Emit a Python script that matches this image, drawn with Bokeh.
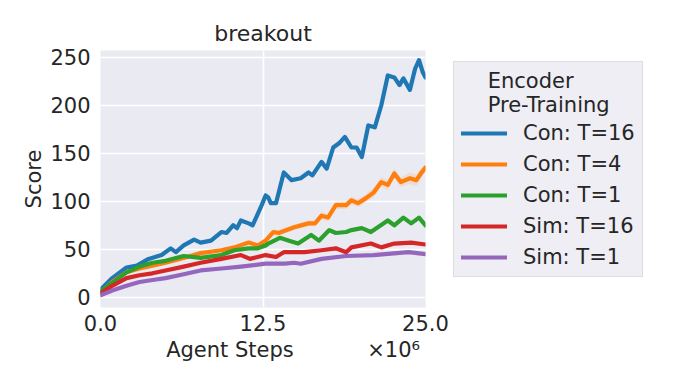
from bokeh.plotting import figure
from bokeh.models import Range1d, FixedTicker, PrintfTickFormatter, Legend, LegendItem
from bokeh.embed import file_html
from bokeh.resources import INLINE

# ---- data (x in millions of agent steps) ----
con16_x = [0, 0.9, 2.0, 2.8, 3.7, 4.7, 5.4, 5.8, 6.4, 7.2, 7.7, 8.5, 9.3, 9.7, 10.2, 10.5, 10.8, 11.4, 11.7,
           12.1, 12.4, 12.7, 12.9, 13.1, 13.5, 14.1, 14.7, 15.4, 16.0, 16.3, 17.0, 17.4, 17.9, 18.4, 18.8,
           19.3, 19.7, 20.1, 20.6, 21.1, 21.6, 22.1, 22.6, 23.0, 23.3, 23.8, 24.2, 24.5, 24.8, 25.0]
con16_y = [8, 20, 31, 33, 40, 44, 51, 47, 54, 60, 57, 59, 68, 67, 75, 72, 80, 77, 75,
           87, 96, 106, 104, 98, 98, 130, 122, 124, 130, 127, 141, 134, 156, 161, 167,
           156, 156, 146, 179, 177, 200, 231, 229, 221, 228, 216, 238, 247, 234, 229]

con4_x = [0, 0.9, 2.0, 3.0, 4.0, 5.0, 6.4, 7.7, 9.3, 10.3, 11.4, 12.1, 12.7, 13.3, 13.7, 14.9, 16.0, 16.5,
          17.0, 17.5, 18.1, 18.9, 19.3, 19.8, 20.4, 21.0, 21.6, 22.1, 22.6, 23.1, 23.8, 24.3, 24.7, 25.0]
con4_y = [5, 16, 26, 30, 33, 36, 41, 46, 49, 52, 57, 54, 59, 68, 67, 73, 77, 77,
          85, 83, 96, 96, 101, 98, 103, 109, 120, 117, 129, 120, 124, 122, 130, 135]
con4_sd = [1, 1, 1, 1, 1, 1, 1, 1, 2, 2, 2, 2, 2, 3, 3, 3, 3, 3,
           4, 4, 4, 4, 4, 4, 4, 5, 5, 5, 5, 5, 6, 6, 5, 4]

con1_x = [0, 0.9, 2.0, 3.0, 4.0, 5.0, 6.4, 7.7, 9.3, 10.3, 11.4, 12.1, 12.7, 12.9, 13.8, 14.5, 15.2, 16.2,
          16.8, 17.6, 18.1, 18.9, 19.3, 20.1, 20.8, 22.1, 22.6, 23.3, 23.9, 24.5, 25.0]
con1_y = [6, 15, 26, 32, 36, 38, 43, 41, 44, 49, 51, 51, 54, 56, 62, 59, 56, 65,
          59, 70, 67, 68, 70, 72, 68, 80, 75, 83, 77, 83, 75]

sim16_x = [0, 0.9, 2.0, 3.0, 4.0, 5.0, 6.4, 7.7, 9.3, 10.8, 11.5, 12.7, 13.5, 14.1, 15.7, 17.0, 18.1, 18.9,
           19.3, 20.8, 21.6, 22.6, 23.9, 25.0]
sim16_y = [4, 12, 20, 23, 25, 28, 32, 36, 40, 44, 40, 44, 42, 47, 47, 49, 51, 47,
           52, 56, 52, 56, 57, 55]

sim1_x = [0, 0.9, 2.0, 3.0, 4.0, 5.0, 6.4, 7.7, 9.3, 10.8, 12.7, 14.2, 14.9, 15.4, 17.0, 18.9, 21.0, 23.7, 25.0]
sim1_y = [2, 7, 12, 16, 18, 20, 24, 28, 30, 32, 35, 35, 36, 35, 40, 43, 44, 47, 45]

labels = ["Con: T=16", "Con: T=4", "Con: T=1", "Sim: T=16", "Sim: T=1"]
colors = ["#1f77b4", "#ff7f0e", "#2ca02c", "#d62728", "#9467bd"]
x_ticks = [0, 12.5, 25]
y_ticks = [0, 50, 100, 150, 200, 250]

FONT = "DejaVu Sans"
TXT = "#262626"
NB = "\u00a0"

p = figure(frame_width=325, frame_height=257, output_backend="svg", toolbar_location=None,
           x_range=Range1d(0, 25), y_range=Range1d(-10.6, 257),
           min_border_left=100, min_border_right=236, min_border_top=50, min_border_bottom=72,
           background_fill_color="#eaeaf2", border_fill_color="white")
p.outline_line_color = None

p.title.text = "breakout"
p.title.align = "center"
p.title.text_font = FONT
p.title.text_font_size = "22px"
p.title.text_font_style = "normal"
p.title.text_color = TXT
p.title.standoff = 10

for ax in (p.xaxis[0], p.yaxis[0]):
    ax.axis_line_color = None
    ax.major_tick_line_color = None
    ax.minor_tick_line_color = None
    ax.major_tick_in = 0
    ax.major_tick_out = 0
    ax.minor_tick_in = 0
    ax.minor_tick_out = 0
    ax.major_label_text_font = FONT
    ax.major_label_text_font_size = "21px"
    ax.major_label_text_color = TXT
    ax.axis_label_text_font = FONT
    ax.axis_label_text_font_size = "21px"
    ax.axis_label_text_font_style = "normal"
    ax.axis_label_text_color = TXT

p.xaxis.ticker = FixedTicker(ticks=x_ticks)
p.xaxis.formatter = PrintfTickFormatter(format="%.1f")
p.xaxis.major_label_standoff = 7
p.xaxis.axis_label = NB * 9 + "Agent Steps" + NB * 11 + "×10⁶"
p.xaxis.axis_label_standoff = 4
p.yaxis.ticker = FixedTicker(ticks=y_ticks)
p.yaxis.major_label_standoff = 10
p.yaxis.axis_label = "Score"
p.yaxis.axis_label_standoff = 1

p.grid.grid_line_color = "white"
p.grid.grid_line_width = 1.6

# confidence band for Con: T=4
lo = [y - s for y, s in zip(con4_y, con4_sd)]
hi = [y + s for y, s in zip(con4_y, con4_sd)]
p.varea(x=con4_x, y1=lo, y2=hi, fill_color=colors[1], fill_alpha=0.15)

series = [(con16_x, con16_y), (con4_x, con4_y), (con1_x, con1_y), (sim16_x, sim16_y), (sim1_x, sim1_y)]
renderers = []
for (xs, ys), c in zip(series, colors):
    r = p.line(x=xs, y=ys, line_color=c, line_width=4.2, line_join="round", line_cap="round")
    renderers.append(r)

legend = Legend(items=[LegendItem(label=l, renderers=[r]) for l, r in zip(labels, renderers)],
                title=NB * 4 + "Encoder\n" + NB * 4 + "Pre-Training",
                location=(28, 30))
legend.title_text_font = FONT
legend.title_text_font_size = "21px"
legend.title_text_font_style = "normal"
legend.title_text_color = TXT
legend.title_standoff = 4
legend.label_text_font = FONT
legend.label_text_font_size = "21px"
legend.label_text_color = TXT
legend.label_standoff = 16
legend.label_height = 24
legend.glyph_height = 24
legend.glyph_width = 46
legend.spacing = 7
legend.padding = 7
legend.margin = 0
legend.background_fill_color = "#eeeef4"
legend.background_fill_alpha = 1.0
legend.border_line_color = "#cccccc"
legend.border_line_width = 1
p.add_layout(legend, "right")

open("out.html", "w").write(file_html(p, INLINE))
